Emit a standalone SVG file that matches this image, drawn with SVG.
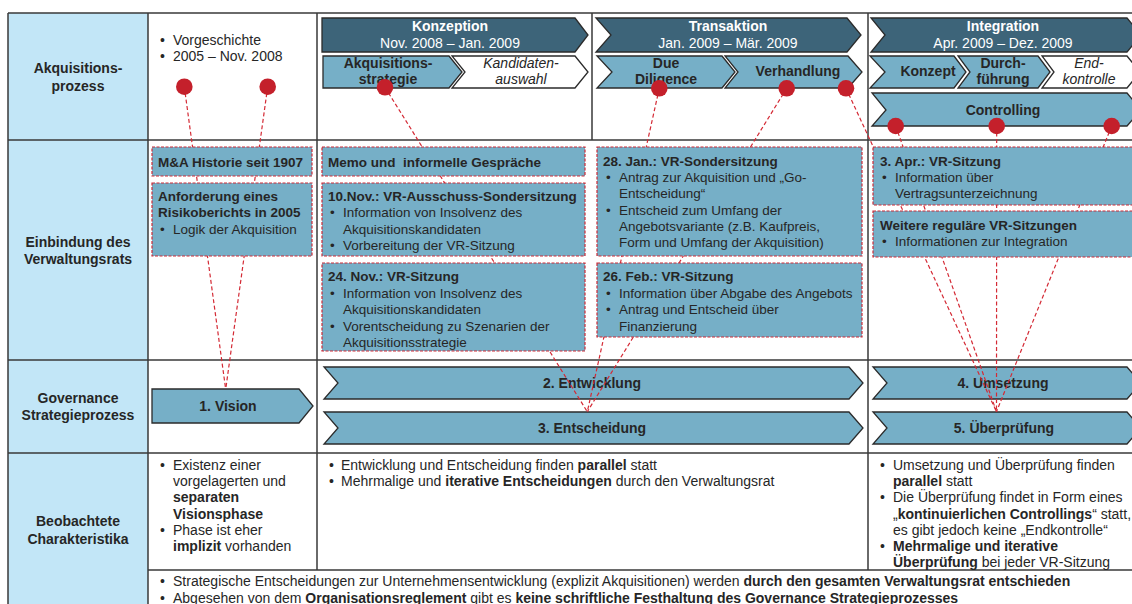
<svg xmlns="http://www.w3.org/2000/svg" width="1132" height="604" viewBox="0 0 1132 604">
  <defs>
    <style>
      text { font-family: "Liberation Sans", Arial, sans-serif; fill: #262626; }
      .lbl { font-size: 14px; font-weight: bold; text-anchor: middle; }
      .hd { font-size: 14px; font-weight: bold; fill: #ffffff; text-anchor: middle; }
      .hs { font-size: 14px; fill: #ffffff; text-anchor: middle; }
      .sb { font-size: 14px; font-weight: bold; text-anchor: middle; }
      .si { font-size: 14px; font-style: italic; text-anchor: middle; }
      .bt { font-size: 13.5px; font-weight: bold; white-space: pre; }
      .bx { font-size: 13.5px; }
      .tx { font-size: 14px; }
      .b { font-weight: bold; }
      .grid { stroke: #3a3a3a; stroke-width: 1.5; fill: none; }
      .dark { fill: #3d6479; stroke: #2b2b2b; stroke-width: 1.3; }
      .light { fill: #76afc7; stroke: #2b2b2b; stroke-width: 1.3; }
      .blank { fill: #ffffff; stroke: #2b2b2b; stroke-width: 1.3; }
      .box { fill: #76afc7; stroke: #cc2a36; stroke-width: 1.2; stroke-dasharray: 3 1.5; }
      .link { stroke: #d42a35; stroke-width: 1.2; stroke-dasharray: 4 2.5; fill: none; }
      .dot { fill: #c4202b; }
    </style>
  </defs>

  <!-- table frame -->
  <g id="table">
    <rect x="8" y="13" width="140" height="591" fill="#c2e6f7"/>
    <path class="grid" d="M8,13 H1132 M8,140 H1132 M8,360 H1132 M8,453 H1132 M148,570 H1132 M8,13 V604 M148,13 V604 M317,13 V570 M592,13 V140 M868,13 V570"/>
  </g>

  <!-- row labels -->
  <g id="row-labels">
    <text class="lbl" x="78" y="73">Akquisitions-</text>
    <text class="lbl" x="78" y="91">prozess</text>
    <text class="lbl" x="78" y="247">Einbindung des</text>
    <text class="lbl" x="78" y="264">Verwaltungsrats</text>
    <text class="lbl" x="78" y="403">Governance</text>
    <text class="lbl" x="78" y="420">Strategieprozess</text>
    <text class="lbl" x="78" y="526">Beobachtete</text>
    <text class="lbl" x="78" y="544">Charakteristika</text>
  </g>

  <!-- prehistory -->
  <g id="vorgeschichte">
    <text class="tx" x="160" y="45">•</text>
    <text class="tx" x="173" y="45">Vorgeschichte</text>
    <text class="tx" x="160" y="61">•</text>
    <text class="tx" x="173" y="61">2005 – Nov. 2008</text>
  </g>

  <!-- acquisition phases -->
  <g id="konzeption">
    <path class="dark" d="M322,18 H575 L588,35 L575,52 H322 Z"/>
    <text class="hd" x="450" y="31">Konzeption</text>
    <text class="hs" x="450" y="48">Nov. 2008 – Jan. 2009</text>
  </g>
  <g id="akquisitionsstrategie">
    <path class="light" d="M323,56 H449 L462,72 L449,88 H323 Z"/>
    <text class="sb" x="388" y="68">Akquisitions-</text>
    <text class="sb" x="388" y="84">strategie</text>
  </g>
  <g id="kandidatenauswahl">
    <path class="blank" d="M452,56 H575 L588,72 L575,88 H452 L465,72 Z"/>
    <text class="si" x="521" y="68">Kandidaten-</text>
    <text class="si" x="521" y="84">auswahl</text>
  </g>

  <g id="transaktion">
    <path class="dark" d="M596,18 H847 L861,35 L847,52 H596 L611,35 Z"/>
    <text class="hd" x="728" y="31">Transaktion</text>
    <text class="hs" x="728" y="48">Jan. 2009 – Mär. 2009</text>
  </g>
  <g id="due-diligence">
    <path class="light" d="M597,56 H722 L735,72 L722,88 H597 L612,72 Z"/>
    <text class="sb" x="666" y="68">Due</text>
    <text class="sb" x="666" y="84">Diligence</text>
  </g>
  <g id="verhandlung">
    <path class="light" d="M725,56 H848 L862,72 L848,88 H725 L738,72 Z"/>
    <text class="sb" x="798" y="76">Verhandlung</text>
  </g>

  <g id="integration">
    <path class="dark" d="M871,18 H1127 L1141,35 L1127,52 H871 L885,35 Z"/>
    <text class="hd" x="1003" y="31">Integration</text>
    <text class="hs" x="1003" y="48">Apr. 2009 – Dez. 2009</text>
  </g>
  <g id="konzept">
    <path class="light" d="M870,56 H954 L966,72 L954,88 H870 L885,72 Z"/>
    <text class="sb" x="928" y="76">Konzept</text>
  </g>
  <g id="durchfuehrung">
    <path class="light" d="M958,56 H1038 L1050,72 L1038,88 H958 L970,72 Z"/>
    <text class="sb" x="1003" y="68">Durch-</text>
    <text class="sb" x="1003" y="84">führung</text>
  </g>
  <g id="endkontrolle">
    <path class="blank" d="M1042,56 H1127 L1140,72 L1127,88 H1042 L1054,72 Z"/>
    <text class="si" x="1089" y="68">End-</text>
    <text class="si" x="1089" y="84">kontrolle</text>
  </g>
  <g id="controlling">
    <path class="light" d="M872,93 H1127 L1141,110 L1127,126 H872 L886,110 Z"/>
    <text class="sb" x="1003" y="115">Controlling</text>
  </g>

  <!-- governance strategy process -->
  <g id="vision">
    <path class="light" d="M152,389 H299 L313,406 L299,423 H152 Z"/>
    <text class="sb" x="228" y="411">1. Vision</text>
  </g>
  <g id="entwicklung">
    <path class="light" d="M324,367 H849 L863,383 L849,399 H324 L338,383 Z"/>
    <text class="sb" x="592" y="388">2. Entwicklung</text>
  </g>
  <g id="entscheidung">
    <path class="light" d="M324,412 H849 L863,428 L849,444 H324 L338,428 Z"/>
    <text class="sb" x="592" y="433">3. Entscheidung</text>
  </g>
  <g id="umsetzung">
    <path class="light" d="M873,367 H1127 L1141,383 L1127,399 H873 L887,383 Z"/>
    <text class="sb" x="1003" y="388">4. Umsetzung</text>
  </g>
  <g id="ueberpruefung">
    <path class="light" d="M873,412 H1127 L1141,428 L1127,444 H873 L887,428 Z"/>
    <text class="sb" x="1004" y="433">5. Überprüfung</text>
  </g>

  <!-- connectors from process steps to governance phases -->
  <g id="connectors">
    <line class="link" x1="184.3" y1="86.7" x2="225.7" y2="389.3"/>
    <line class="link" x1="267.7" y1="86.7" x2="225.7" y2="389.3"/>
    <line class="link" x1="385" y1="87.3" x2="587.3" y2="411.7"/>
    <line class="link" x1="659.3" y1="88.3" x2="587.3" y2="411.7"/>
    <line class="link" x1="786.7" y1="88.3" x2="587.3" y2="411.7"/>
    <line class="link" x1="846" y1="88.3" x2="996.5" y2="411.7"/>
    <line class="link" x1="895.7" y1="126" x2="996.5" y2="411.7"/>
    <line class="link" x1="996.7" y1="126" x2="996.5" y2="411.7"/>
    <line class="link" x1="1111.7" y1="126" x2="996.5" y2="411.7"/>
  </g>

  <!-- board involvement -->
  <g id="ma-historie">
    <rect class="box" x="152" y="147" width="160" height="29"/>
    <text class="bt" x="158" y="166.5">M&amp;A Historie seit 1907</text>
  </g>
  <g id="risikobericht">
    <rect class="box" x="152" y="183" width="160" height="73"/>
    <text class="bt" x="158" y="200.5">Anforderung eines</text>
    <text class="bt" x="158" y="216.5">Risikoberichts in 2005</text>
    <text class="bx" x="160" y="233.5">•</text>
    <text class="bx" x="173" y="233.5">Logik der Akquisition</text>
  </g>
  <g id="memo">
    <rect class="box" x="322" y="147" width="263" height="29"/>
    <text class="bt" x="328" y="166.5">Memo und  informelle Gespräche</text>
  </g>
  <g id="vr-10-nov">
    <rect class="box" x="322" y="183" width="263" height="73"/>
    <text class="bt" x="328" y="200.5">10.Nov.: VR-Ausschuss-Sondersitzung</text>
    <text class="bx" x="330" y="217">•</text>
    <text class="bx" x="343" y="217">Information von Insolvenz des</text>
    <text class="bx" x="343" y="233.5">Akquisitionskandidaten</text>
    <text class="bx" x="330" y="250">•</text>
    <text class="bx" x="343" y="250">Vorbereitung der VR-Sitzung</text>
  </g>
  <g id="vr-24-nov">
    <rect class="box" x="322" y="263" width="263" height="88"/>
    <text class="bt" x="328" y="281">24. Nov.: VR-Sitzung</text>
    <text class="bx" x="330" y="297.5">•</text>
    <text class="bx" x="343" y="297.5">Information von Insolvenz des</text>
    <text class="bx" x="343" y="314">Akquisitionskandidaten</text>
    <text class="bx" x="330" y="330.5">•</text>
    <text class="bx" x="343" y="330.5">Vorentscheidung zu Szenarien der</text>
    <text class="bx" x="343" y="346.5">Akquisitionsstrategie</text>
  </g>
  <g id="vr-28-jan">
    <rect class="box" x="597" y="147" width="265" height="109"/>
    <text class="bt" x="603" y="166">28. Jan.: VR-Sondersitzung</text>
    <text class="bx" x="606" y="182">•</text>
    <text class="bx" x="619" y="182">Antrag zur Akquisition und „Go-</text>
    <text class="bx" x="619" y="198">Entscheidung“</text>
    <text class="bx" x="606" y="214.5">•</text>
    <text class="bx" x="619" y="214.5">Entscheid zum Umfang der</text>
    <text class="bx" x="619" y="230.5">Angebotsvariante (z.B. Kaufpreis,</text>
    <text class="bx" x="619" y="246.5">Form und Umfang der Akquisition)</text>
  </g>
  <g id="vr-26-feb">
    <rect class="box" x="597" y="263" width="265" height="74"/>
    <text class="bt" x="603" y="281">26. Feb.: VR-Sitzung</text>
    <text class="bx" x="606" y="297.5">•</text>
    <text class="bx" x="619" y="297.5">Information über Abgabe des Angebots</text>
    <text class="bx" x="606" y="314">•</text>
    <text class="bx" x="619" y="314">Antrag und Entscheid über</text>
    <text class="bx" x="619" y="330.5">Finanzierung</text>
  </g>
  <g id="vr-3-apr">
    <rect class="box" x="873" y="147" width="270" height="58"/>
    <text class="bt" x="880" y="166">3. Apr.: VR-Sitzung</text>
    <text class="bx" x="882" y="182">•</text>
    <text class="bx" x="895" y="182">Information über</text>
    <text class="bx" x="895" y="198">Vertragsunterzeichnung</text>
  </g>
  <g id="vr-weitere">
    <rect class="box" x="873" y="211" width="270" height="46"/>
    <text class="bt" x="880" y="229.5">Weitere reguläre VR-Sitzungen</text>
    <text class="bx" x="882" y="245.5">•</text>
    <text class="bx" x="895" y="245.5">Informationen zur Integration</text>
  </g>

  <!-- anchor points on the acquisition process -->
  <g id="anchors">
    <circle class="dot" cx="184.3" cy="86.7" r="8.3"/>
    <circle class="dot" cx="267.7" cy="86.7" r="8.3"/>
    <circle class="dot" cx="385" cy="87.3" r="8.3"/>
    <circle class="dot" cx="659.3" cy="88.3" r="8.3"/>
    <circle class="dot" cx="786.7" cy="88.3" r="8.3"/>
    <circle class="dot" cx="846" cy="88.3" r="8.3"/>
    <circle class="dot" cx="895.7" cy="126" r="8.3"/>
    <circle class="dot" cx="996.7" cy="126" r="8.3"/>
    <circle class="dot" cx="1111.7" cy="126" r="8.3"/>
  </g>

  <!-- observed characteristics -->
  <g id="char-vision">
    <text class="tx" x="160" y="470">•</text>
    <text class="tx" x="173" y="470">Existenz einer</text>
    <text class="tx" x="173" y="486">vorgelagerten  und</text>
    <text class="tx b" x="173" y="502">separaten</text>
    <text class="tx b" x="173" y="519">Visionsphase</text>
    <text class="tx" x="160" y="535">•</text>
    <text class="tx" x="173" y="535">Phase ist eher</text>
    <text class="tx" x="173" y="551"><tspan class="b">implizit</tspan> vorhanden</text>
  </g>
  <g id="char-entwicklung">
    <text class="tx" x="329" y="470">•</text>
    <text class="tx" x="341" y="470">Entwicklung und Entscheidung finden <tspan class="b">parallel</tspan> statt</text>
    <text class="tx" x="329" y="486">•</text>
    <text class="tx" x="341" y="486">Mehrmalige und <tspan class="b">iterative Entscheidungen</tspan> durch den Verwaltungsrat</text>
  </g>
  <g id="char-umsetzung">
    <text class="tx" x="880" y="470">•</text>
    <text class="tx" x="893" y="470">Umsetzung und Überprüfung finden</text>
    <text class="tx" x="893" y="486"><tspan class="b">parallel</tspan> statt</text>
    <text class="tx" x="880" y="502">•</text>
    <text class="tx" x="893" y="502">Die Überprüfung findet in Form eines</text>
    <text class="tx" x="893" y="519">„<tspan class="b">kontinuierlichen Controllings</tspan>“ statt,</text>
    <text class="tx" x="893" y="535">es gibt jedoch keine „Endkontrolle“</text>
    <text class="tx" x="880" y="551">•</text>
    <text class="tx b" x="893" y="551">Mehrmalige und iterative</text>
    <text class="tx" x="893" y="567"><tspan class="b">Überprüfung</tspan> bei jeder VR-Sitzung</text>
  </g>
  <g id="char-general">
    <text class="tx" x="160" y="586">•</text>
    <text class="tx" x="173" y="586">Strategische Entscheidungen zur Unternehmensentwicklung (explizit Akquisitionen) werden <tspan class="b">durch den gesamten Verwaltungsrat entschieden</tspan></text>
    <text class="tx" x="160" y="603">•</text>
    <text class="tx" x="173" y="603">Abgesehen von dem <tspan class="b">Organisationsreglement</tspan> gibt es <tspan class="b">keine schriftliche Festhaltung des Governance Strategieprozesses</tspan></text>
  </g>
</svg>
